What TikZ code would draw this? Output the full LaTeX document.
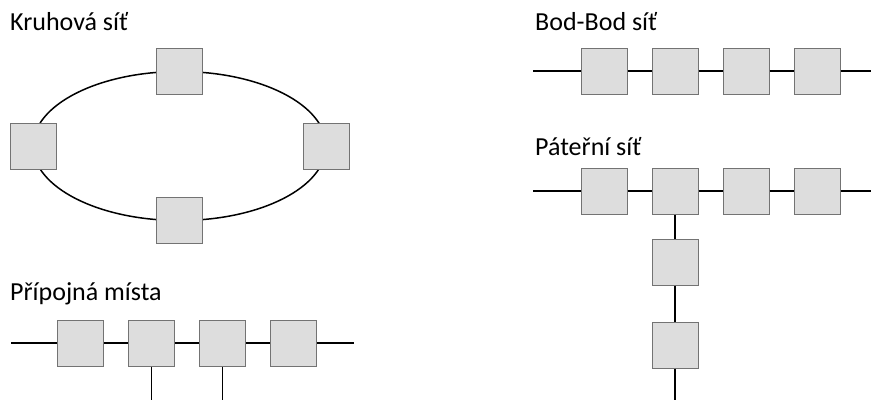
\documentclass[tikz,border=0pt]{standalone}
\usepackage{fontspec}
\setmainfont{Carlito}
\usetikzlibrary{
  positioning % for relative placement of the stations
}
\tikzset{
  station/.style={ % style for each network station
    rectangle,draw=black!55, % drawn as a grey rectangle
    fill=gray!27, % light grey fill
    line width=1pt,
    inner sep=0pt, % no padding
    minimum size=46pt, % every station the same size
  },
  link/.style={ % style for the cables
    line width=1.5pt,
  },
  title/.style={ % style for the headings
    anchor=base west,inner sep=0pt,
    font=\fontsize{26}{30}\selectfont,
  },
}

\begin{document}
\begin{tikzpicture}[x=1pt,y=-1pt]
\useasboundingbox (0,0) rectangle (871,400);
% ring
\node[title] (kt) at (10,30) {Kruhová síť};
\coordinate (kc) at (179.5,146);
\draw[link] (kc) ellipse [x radius=146.5, y radius=74.5];
\node[station] (k1) at (179.5,71.5) {};
\node[station] (k2) at (326,146) {};
\node[station] (k3) at (179.5,220.5) {};
\node[station] (k4) at (33,146) {};
% bus with taps
\node[title] (pt) at (10,300) {Přípojná místa};
\coordinate (pw) at (11,343);
\coordinate (pe) at (354,343);
\node[station] (p1) at (80.5,343) {};
\node[station, right=24pt of p1] (p2) {};
\node[station, right=24pt of p2] (p3) {};
\node[station, right=24pt of p3] (p4) {};
\coordinate (pd2) at (p2 |- 0,400);
\coordinate (pd3) at (p3 |- 0,400);
\draw[link] (pw) -- (p1) -- (p2) -- (p3) -- (p4) -- (pe);
\draw[link] (p2) -- (pd2);
\draw[link] (p3) -- (pd3);
% point to point
\node[title] (bt) at (535,30) {Bod-Bod síť};
\coordinate (bw) at (533,71);
\coordinate (be) at (871,71);
\node[station] (b1) at (604,71) {};
\node[station, right=24pt of b1] (b2) {};
\node[station, right=24pt of b2] (b3) {};
\node[station, right=24pt of b3] (b4) {};
\draw[link] (bw) -- (b1) -- (b2) -- (b3) -- (b4) -- (be);
% backbone
\node[title] (at) at (535,155) {Páteřní síť};
\coordinate (aw) at (533,191);
\coordinate (ae) at (871,191);
\node[station] (a1) at (604,191) {};
\node[station, right=24pt of a1] (a2) {};
\node[station, right=24pt of a2] (a3) {};
\node[station, right=24pt of a3] (a4) {};
\node[station, below=24pt of a2] (v1) {};
\node[station, below=36pt of v1] (v2) {};
\coordinate (vd) at (v2 |- 0,400);
\draw[link] (aw) -- (a1) -- (a2) -- (a3) -- (a4) -- (ae);
\draw[link] (a2) -- (v1) -- (v2) -- (vd);
\end{tikzpicture}
\end{document}
